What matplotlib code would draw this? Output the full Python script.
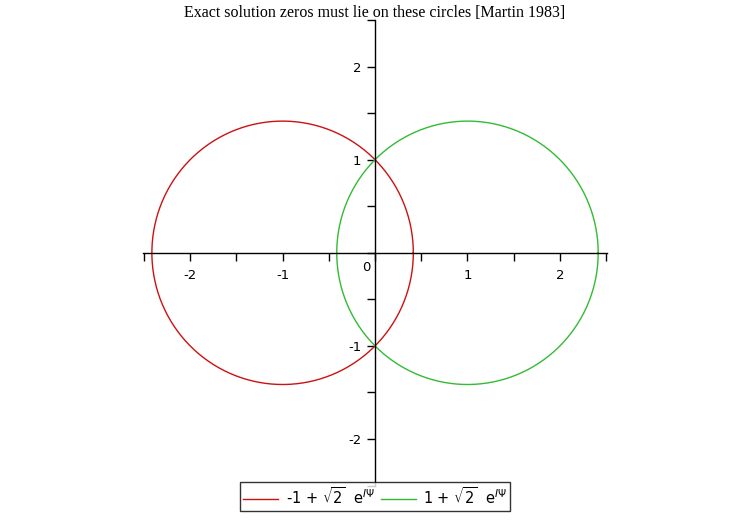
import numpy as np
import matplotlib.pyplot as plt
from matplotlib.ticker import MultipleLocator, FixedLocator

# circle centres, radius sqrt(2) as in the legend
centres = [-1.0, 1.0]
radius = np.sqrt(2.0)
colours = ['#cc1111', '#33bb33']
labels = [r'-1 + $\sqrt{2}\ $ e$^{I\Psi}$', r'1 + $\sqrt{2}\ $ e$^{I\Psi}$']
xticks = [-2, -1, 1, 2]
yticks = [-2, -1, 1, 2]

plt.rcParams['mathtext.fontset'] = 'dejavusans'

fig = plt.figure(figsize=(7.5, 5.22), dpi=100)
ax = fig.add_axes([0.1907, 0.0697, 0.6187, 0.892])

psi = np.linspace(0, 2 * np.pi, 400)
for c, col, lab in zip(centres, colours, labels):
    z = c + radius * np.exp(1j * psi)
    ax.plot(z.real, z.imag, color=col, lw=1.0, label=lab)

ax.set_xlim(-2.51, 2.51)
ax.set_ylim(-2.5, 2.5)

for s in ['top', 'right']:
    ax.spines[s].set_visible(False)
ax.spines['left'].set_position('zero')
ax.spines['bottom'].set_position('zero')
ax.spines['left'].set_linewidth(1.0)
ax.spines['bottom'].set_linewidth(1.0)

ax.xaxis.set_major_locator(FixedLocator(xticks))
ax.yaxis.set_major_locator(FixedLocator(yticks))
ax.xaxis.set_minor_locator(MultipleLocator(0.5))
ax.yaxis.set_minor_locator(MultipleLocator(0.5))
ax.tick_params(which='both', direction='out', length=6, width=1, labelsize=9.5)
ax.tick_params(axis='x', pad=6)
ax.tick_params(axis='y', pad=4)
ax.set_xticklabels([str(t) for t in xticks])
ax.set_yticklabels([str(t) for t in yticks])
ax.text(-0.05, -0.09, '0', ha='right', va='top', fontsize=9.5)

fig.text(0.5, 0.975, 'Exact solution zeros must lie on these circles [Martin 1983]',
         ha='center', va='center', family='Liberation Serif', fontsize=11.5)

leg = fig.legend(loc='center', bbox_to_anchor=(0.5, 0.049), ncol=2, fontsize=10.5,
                 frameon=True, fancybox=False, edgecolor='black', handlelength=2.4,
                 borderpad=0.25, borderaxespad=0, columnspacing=0.4, handletextpad=0.5)
leg.get_frame().set_linewidth(1.0)

plt.savefig('out.png', dpi=100)
plt.close()
